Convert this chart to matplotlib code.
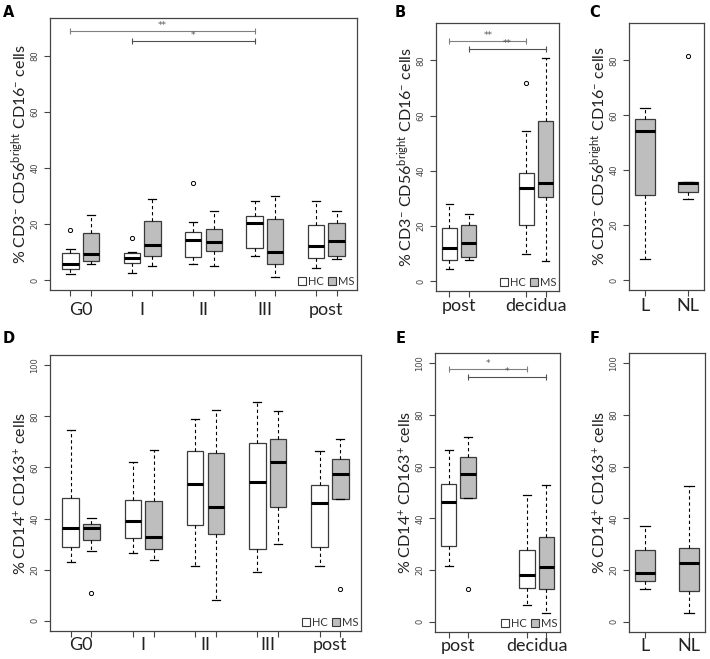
import matplotlib
matplotlib.use('Agg')
import matplotlib.pyplot as plt
from matplotlib.patches import Patch

plt.rcParams['font.family'] = ['Lato', 'DejaVu Sans']
plt.rcParams['mathtext.fontset'] = 'custom'
plt.rcParams['mathtext.rm'] = 'Lato'
plt.rcParams['mathtext.it'] = 'Lato:italic'
plt.rcParams['mathtext.bf'] = 'Lato:bold'

# ---- data ----
# panel A: CD56bright NK, by trimester
a_groups = ['G0', 'I', 'II', 'III', 'post']
a_hc_lo = [2.1, 2.5, 5.6, 8.7, 4.4]
a_hc_q1 = [4.0, 6.1, 8.3, 11.4, 7.7]
a_hc_med = [5.8, 7.7, 14.3, 20.4, 12.3]
a_hc_q3 = [9.6, 9.8, 17.3, 23.0, 19.6]
a_hc_hi = [11.2, 10.0, 20.6, 28.2, 28.2]
a_hc_out = [[17.9], [15.1], [34.8], [], []]
a_ms_lo = [5.8, 5.0, 4.8, 1.1, 7.5]
a_ms_q1 = [6.7, 8.6, 10.4, 5.8, 8.7]
a_ms_med = [9.3, 12.6, 13.6, 9.9, 14.0]
a_ms_q3 = [16.9, 21.0, 18.3, 21.8, 20.4]
a_ms_hi = [23.3, 29.0, 24.8, 30.0, 24.6]
a_ms_out = [[], [], [], [], []]

# panel B: post vs decidua
b_groups = ['post', 'decidua']
b_hc_lo = [4.5, 9.7]
b_hc_q1 = [7.8, 20.3]
b_hc_med = [12.1, 33.8]
b_hc_q3 = [19.3, 39.1]
b_hc_hi = [28.1, 54.3]
b_hc_out = [[], [72.0]]
b_ms_lo = [7.6, 7.2]
b_ms_q1 = [8.7, 30.4]
b_ms_med = [13.9, 35.4]
b_ms_q3 = [20.3, 58.2]
b_ms_hi = [24.5, 80.8]
b_ms_out = [[], []]

# panel C: L vs NL
c_groups = ['L', 'NL']
c_lo = [7.6, 29.7]
c_q1 = [31.0, 32.2]
c_med = [54.2, 35.2]
c_q3 = [58.5, 35.7]
c_hi = [62.5, 35.7]
c_out = [[], [81.5]]

# panel D: CD14+ CD163+, by trimester
d_hc_lo = [23.0, 26.5, 21.6, 19.1, 21.6]
d_hc_q1 = [29.0, 32.2, 37.4, 28.1, 29.0]
d_hc_med = [36.2, 39.0, 53.6, 54.5, 46.2]
d_hc_q3 = [48.2, 47.3, 66.3, 69.7, 53.2]
d_hc_hi = [74.7, 62.2, 79.0, 85.6, 66.3]
d_hc_out = [[], [], [], [], []]
d_ms_lo = [27.5, 23.8, 8.1, 30.0, 47.7]
d_ms_q1 = [31.6, 28.0, 33.9, 44.5, 47.7]
d_ms_med = [36.5, 32.8, 44.5, 62.0, 57.4]
d_ms_q3 = [37.8, 46.8, 65.6, 71.3, 63.5]
d_ms_hi = [40.2, 66.7, 82.6, 82.2, 71.3]
d_ms_out = [[11.0], [], [], [], [12.5]]

# panel E: post vs decidua
e_hc_lo = [21.6, 6.4]
e_hc_q1 = [29.3, 13.2]
e_hc_med = [46.3, 18.1]
e_hc_q3 = [53.3, 27.6]
e_hc_hi = [66.3, 49.0]
e_hc_out = [[], []]
e_ms_lo = [47.7, 3.3]
e_ms_q1 = [47.7, 12.6]
e_ms_med = [57.3, 21.0]
e_ms_q3 = [63.6, 32.9]
e_ms_hi = [71.3, 53.0]
e_ms_out = [[12.6], []]

# panel F: L vs NL
f_lo = [12.6, 3.2]
f_q1 = [15.6, 12.0]
f_med = [18.9, 22.6]
f_q3 = [27.7, 28.4]
f_hi = [37.1, 52.6]
f_out = [[], []]

# significance brackets: box position from, box position to, height, label
a_sig_from = [1, 4]
a_sig_to = [10, 10]
a_sig_y = [89.0, 85.5]
a_sig_txt = ['**', '*']
b_sig_from = [1, 2]
b_sig_to = [5, 6]
b_sig_y = [87.2, 84.1]
b_sig_txt = ['**', '**']
e_sig_from = [1, 2]
e_sig_to = [5, 6]
e_sig_y = [97.8, 94.6]
e_sig_txt = ['*', '*']

label_nk = r'% CD3$^{-}$ CD56$^{\mathrm{bright}}$ CD16$^{-}$ cells'
label_mo = r'% CD14$^{+}$ CD163$^{+}$ cells'

GRAY = '#bebebe'
EDGE = '#3a3a3a'

W, H = 710, 659
fig = plt.figure(figsize=(W / 100, H / 100), dpi=100)


def make_ax(left, right, top, bottom):
    return fig.add_axes([left / W, (H - bottom) / H, (right - left) / W, (bottom - top) / H])


def stats_list(lo, q1, med, q3, hi, out):
    return [dict(whislo=lo[i], q1=q1[i], med=med[i], q3=q3[i], whishi=hi[i], fliers=out[i])
            for i in range(len(med))]


def draw_boxes(ax, stats, pos, colors, width):
    bp = ax.bxp(stats, positions=pos, widths=width, patch_artist=True, manage_ticks=False,
                boxprops=dict(edgecolor=EDGE, linewidth=0.9),
                medianprops=dict(color='black', linewidth=2.2, solid_capstyle='butt'),
                whiskerprops=dict(color='black', linewidth=0.8, linestyle=(0, (3, 2.5))),
                capprops=dict(color='black', linewidth=0.9),
                flierprops=dict(marker='o', markerfacecolor='none', markeredgecolor='black',
                                markersize=3, markeredgewidth=0.7))
    for patch, c in zip(bp['boxes'], colors):
        patch.set_facecolor(c)


def style_ax(ax, yticks, ylim, xlim, pos, centers, groups, ylabel, xpad):
    ax.set_ylim(ylim)
    ax.set_xlim(xlim)
    ax.set_yticks(yticks)
    ax.set_yticklabels([str(t) for t in yticks], fontsize=6, color='#444444',
                       family='DejaVu Sans')
    for lab in ax.get_yticklabels():
        lab.set_rotation(90)
        lab.set_va('center')
    ax.xaxis.remove_overlapping_locs = False
    ax.set_xticks(pos)
    ax.set_xticklabels([''] * len(pos))
    ax.set_xticks(centers, groups, minor=True)
    ax.tick_params(axis='x', which='minor', length=0, pad=xpad, labelsize=13, labelcolor='#222222')
    ax.tick_params(axis='x', which='major', length=4.5, color='#444444')
    ax.tick_params(axis='y', length=4.5, pad=3, color='#444444')
    for s in ax.spines.values():
        s.set_color('#444444')
        s.set_linewidth(0.9)
    ax.set_ylabel(ylabel, fontsize=11.5, color='#222222', labelpad=1)


def add_legend(ax):
    handles = [Patch(facecolor='white', edgecolor=EDGE, linewidth=0.8),
               Patch(facecolor=GRAY, edgecolor=EDGE, linewidth=0.8)]
    ax.legend(handles, ['HC', 'MS'], loc='lower right', ncol=2, frameon=False,
              fontsize=8, handlelength=0.75, handleheight=0.75, handletextpad=0.15,
              columnspacing=0.4, borderaxespad=0.15, borderpad=0.1,
              labelcolor='#333333')


def add_sig(ax, x_from, x_to, ys, txts):
    cols = ['#808080', '#505050']
    for k in range(len(ys)):
        x0, x1 = x_from[k], x_to[k]
        ax.plot([x0, x1], [ys[k], ys[k]], color=cols[k % 2], lw=0.8,
                marker='|', markersize=4, markeredgewidth=0.8)
        ax.text((x0 + x1) / 2, ys[k] + 0.4, txts[k], ha='center', va='bottom',
                fontsize=6.5, color='#555555', family='DejaVu Sans')


def paired(n, step):
    hc = [1 + step * i for i in range(n)]
    ms = [h + 1 for h in hc]
    return hc, ms


def pair_stats(hc, ms):
    st = []
    for i in range(len(hc)):
        st += [hc[i], ms[i]]
    return st


# ---- panel A ----
ax = make_ax(50, 357, 18, 290)
hc_pos, ms_pos = paired(len(a_groups), 3)
pos = sorted(hc_pos + ms_pos)
st = pair_stats(stats_list(a_hc_lo, a_hc_q1, a_hc_med, a_hc_q3, a_hc_hi, a_hc_out),
                stats_list(a_ms_lo, a_ms_q1, a_ms_med, a_ms_q3, a_ms_hi, a_ms_out))
draw_boxes(ax, st, pos, ['white', GRAY] * len(a_groups), 0.8)
style_ax(ax, [0, 20, 40, 60, 80], (-3.6, 93.6), (0, 15), pos,
         [p + 0.5 for p in hc_pos], a_groups, label_nk, 8.5)
add_legend(ax)
add_sig(ax, a_sig_from, a_sig_to, a_sig_y, a_sig_txt)
fig.text(3 / W, 1 - 17 / H, 'A', fontsize=10.5, fontweight='bold', family='DejaVu Sans')

# ---- panel B ----
ax = make_ax(436, 559, 23, 291)
hc_pos, ms_pos = paired(len(b_groups), 4)
pos = sorted(hc_pos + ms_pos)
st = pair_stats(stats_list(b_hc_lo, b_hc_q1, b_hc_med, b_hc_q3, b_hc_hi, b_hc_out),
                stats_list(b_ms_lo, b_ms_q1, b_ms_med, b_ms_q3, b_ms_hi, b_ms_out))
draw_boxes(ax, st, pos, ['white', GRAY] * len(b_groups), 0.8)
style_ax(ax, [0, 20, 40, 60, 80], (-3.6, 93.6), (0.3, 6.7), pos,
         [p + 0.5 for p in hc_pos], b_groups, label_nk, 5)
add_legend(ax)
add_sig(ax, b_sig_from, b_sig_to, b_sig_y, b_sig_txt)
fig.text(395 / W, 1 - 17 / H, 'B', fontsize=10.5, fontweight='bold', family='DejaVu Sans')

# ---- panel C ----
ax = make_ax(629, 704, 23, 290)
pos = [1, 2]
draw_boxes(ax, stats_list(c_lo, c_q1, c_med, c_q3, c_hi, c_out), pos, [GRAY, GRAY], 0.46)
style_ax(ax, [0, 20, 40, 60, 80], (-3.6, 93.6), (0.64, 2.36), pos, pos, c_groups, label_nk, 6)
fig.text(589 / W, 1 - 17 / H, 'C', fontsize=10.5, fontweight='bold', family='DejaVu Sans')

# ---- panel D ----
ax = make_ax(50, 361, 355, 631)
hc_pos, ms_pos = paired(len(a_groups), 3)
pos = sorted(hc_pos + ms_pos)
st = pair_stats(stats_list(d_hc_lo, d_hc_q1, d_hc_med, d_hc_q3, d_hc_hi, d_hc_out),
                stats_list(d_ms_lo, d_ms_q1, d_ms_med, d_ms_q3, d_ms_hi, d_ms_out))
draw_boxes(ax, st, pos, ['white', GRAY] * len(a_groups), 0.8)
style_ax(ax, [0, 20, 40, 60, 80, 100], (-4, 104), (0, 15), pos,
         [p + 0.5 for p in hc_pos], a_groups, label_mo, 4)
add_legend(ax)
fig.text(3 / W, 1 - 343 / H, 'D', fontsize=10.5, fontweight='bold', family='DejaVu Sans')

# ---- panel E ----
ax = make_ax(435, 560, 353, 632)
hc_pos, ms_pos = paired(len(b_groups), 4)
pos = sorted(hc_pos + ms_pos)
st = pair_stats(stats_list(e_hc_lo, e_hc_q1, e_hc_med, e_hc_q3, e_hc_hi, e_hc_out),
                stats_list(e_ms_lo, e_ms_q1, e_ms_med, e_ms_q3, e_ms_hi, e_ms_out))
draw_boxes(ax, st, pos, ['white', GRAY] * len(b_groups), 0.8)
style_ax(ax, [0, 20, 40, 60, 80, 100], (-4, 104), (0.3, 6.7), pos,
         [p + 0.5 for p in hc_pos], b_groups, label_mo, 4.5)
add_legend(ax)
add_sig(ax, e_sig_from, e_sig_to, e_sig_y, e_sig_txt)
fig.text(396 / W, 1 - 343 / H, 'E', fontsize=10.5, fontweight='bold', family='DejaVu Sans')

# ---- panel F ----
ax = make_ax(629, 705, 353, 632)
pos = [1, 2]
draw_boxes(ax, stats_list(f_lo, f_q1, f_med, f_q3, f_hi, f_out), pos, [GRAY, GRAY], 0.44)
style_ax(ax, [0, 20, 40, 60, 80, 100], (-4, 104), (0.64, 2.36), pos, pos, c_groups, label_mo, 4.5)
fig.text(590 / W, 1 - 343 / H, 'F', fontsize=10.5, fontweight='bold', family='DejaVu Sans')

fig.savefig('out.png', dpi=100)
